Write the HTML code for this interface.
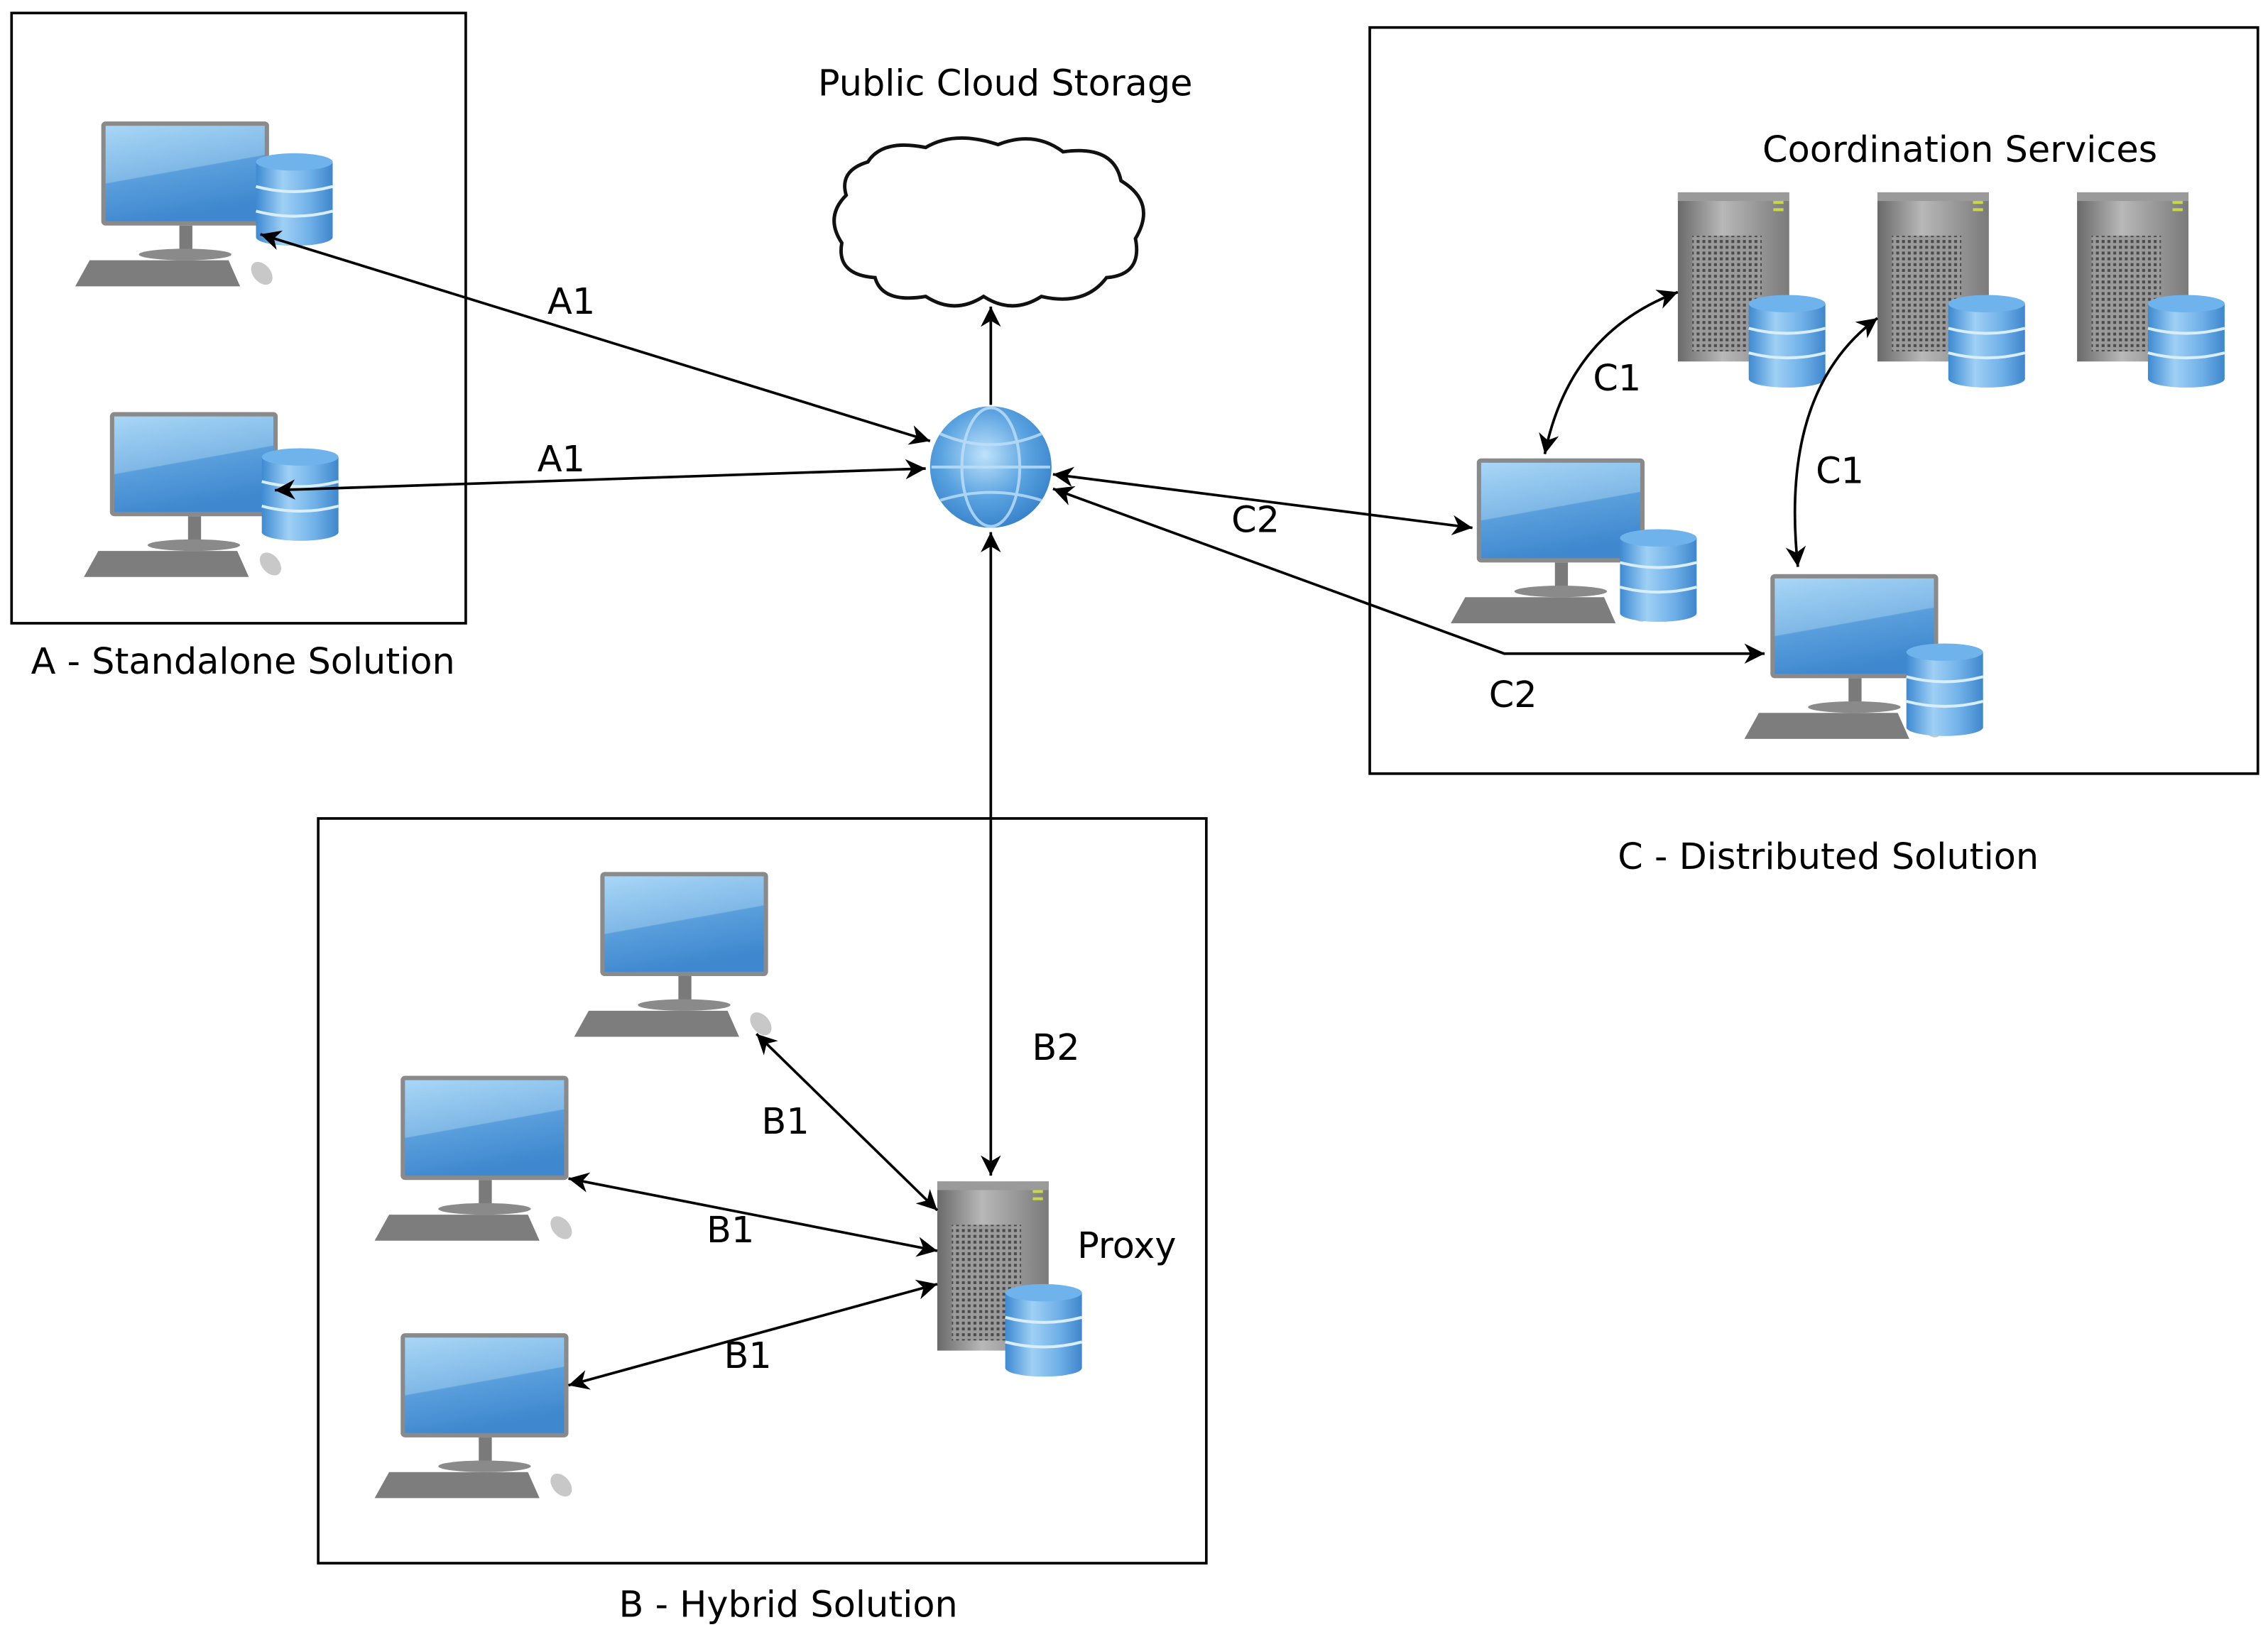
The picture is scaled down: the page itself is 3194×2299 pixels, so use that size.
<!DOCTYPE html>
<html><head><meta charset="utf-8"><style>html,body{margin:0;padding:0;background:#fff}svg{display:block}</style></head><body>
<svg width="3194" height="2299" viewBox="0 0 1568 1128.6" preserveAspectRatio="none" xmlns="http://www.w3.org/2000/svg" font-family="DejaVu Sans, Liberation Sans, sans-serif" font-size="25">
<defs>
<linearGradient id="scr" x1="0" y1="0" x2="0.3" y2="1"><stop offset="0" stop-color="#a8d6f7"/><stop offset="0.55" stop-color="#7fb8e6"/><stop offset="0.56" stop-color="#5a9fdc"/><stop offset="1" stop-color="#3f88cf"/></linearGradient>
<linearGradient id="cyl" x1="0" y1="0" x2="1" y2="0"><stop offset="0" stop-color="#3d8ad2"/><stop offset="0.35" stop-color="#9fd0f5"/><stop offset="0.7" stop-color="#6fb0e8"/><stop offset="1" stop-color="#3f86cc"/></linearGradient>
<linearGradient id="srv" x1="0" y1="0" x2="1" y2="0"><stop offset="0" stop-color="#6a6a6a"/><stop offset="0.4" stop-color="#b8b8b8"/><stop offset="1" stop-color="#7a7a7a"/></linearGradient>
<radialGradient id="glb" cx="0.45" cy="0.4" r="0.6"><stop offset="0" stop-color="#bfe2fb"/><stop offset="0.6" stop-color="#5aa3e0"/><stop offset="1" stop-color="#3a84cc"/></radialGradient>
<pattern id="grid" width="4" height="4" patternUnits="userSpaceOnUse"><rect width="4" height="4" fill="#9a9a9a"/><rect x="1" y="1" width="2" height="2" fill="#4a4a4a"/></pattern>
<symbol id="pc" overflow="visible">
<rect x="18" y="0" width="116" height="72" rx="3" fill="#8a8a8a"/>
<rect x="21" y="3" width="110" height="66" fill="url(#scr)"/>
<rect x="72" y="72" width="9" height="18" fill="#7a7a7a"/>
<ellipse cx="76" cy="92" rx="32" ry="4" fill="#8a8a8a"/>
<polygon points="10,96 106,96 114,114 0,114" fill="#7d7d7d"/>
<ellipse cx="129" cy="105" rx="6" ry="9" fill="#c8c8c8" transform="rotate(-40 129 105)"/>
</symbol>
<symbol id="db" overflow="visible">
<rect x="0" y="6" width="53" height="52" fill="url(#cyl)"/>
<ellipse cx="26.5" cy="58" rx="26.5" ry="6" fill="url(#cyl)"/>
<ellipse cx="26.5" cy="6" rx="26.5" ry="6" fill="#6fb3ec"/>
<path d="M0 23 Q26.5 30 53 23 M0 40 Q26.5 47 53 40" stroke="#d8eefc" stroke-width="2" fill="none"/>
</symbol>
<symbol id="srvr" overflow="visible">
<rect x="0" y="0" width="77" height="117" fill="url(#srv)"/>
<rect x="0" y="0" width="77" height="6" fill="#9a9a9a"/>
<rect x="10" y="30" width="48" height="80" fill="url(#grid)"/>
<rect x="66" y="6" width="7" height="2" fill="#c8d848"/><rect x="66" y="11" width="7" height="2" fill="#c8d848"/>
</symbol>
<marker id="ah" viewBox="0 0 10 10" refX="10" refY="5" markerWidth="18" markerHeight="14" markerUnits="userSpaceOnUse" orient="auto-start-reverse"><path d="M0 0 L10 5 L0 10 L3 5 Z" fill="#000"/></marker>
</defs>
<g fill="none" stroke="#000" stroke-width="1.8">
<rect x="8" y="9" width="314" height="422"/>
<rect x="947" y="19" width="614" height="516"/>
<rect x="220" y="566" width="614" height="515"/>
</g>
<path d="M600 112 Q610 96 640 102 Q660 90 690 100 Q715 90 735 105 Q770 100 775 125 Q800 140 785 165 Q790 190 765 192 Q750 212 720 205 Q700 218 680 205 Q660 218 640 205 Q610 210 605 192 Q578 190 582 168 Q570 150 585 135 Q580 118 600 112 Z" fill="#fff" stroke="#111" stroke-width="2.4"/>
<circle cx="685" cy="323" r="42" fill="url(#glb)"/>
<g stroke="#bfe0fa" stroke-width="2" fill="none" opacity="0.8"><ellipse cx="685" cy="323" rx="20" ry="41"/><line x1="644" y1="323" x2="726" y2="323"/><path d="M650 300 Q685 315 720 300 M650 346 Q685 335 720 346"/></g>
<use href="#pc" x="52" y="84"/><use href="#db" x="177" y="106"/>
<use href="#pc" x="58" y="285"/><use href="#db" x="181" y="310"/>
<use href="#pc" x="397" y="603"/>
<use href="#pc" x="259" y="744"/>
<use href="#pc" x="259" y="922"/>
<use href="#srvr" x="648" y="817"/><use href="#db" x="695" y="888"/>
<use href="#srvr" x="1160" y="133"/><use href="#db" x="1209" y="204"/>
<use href="#srvr" x="1298" y="133"/><use href="#db" x="1347" y="204"/>
<use href="#srvr" x="1436" y="133"/><use href="#db" x="1485" y="204"/>
<use href="#pc" x="1003" y="317"/><use href="#db" x="1120" y="366"/>
<use href="#pc" x="1206" y="397"/><use href="#db" x="1318" y="445"/>
<g stroke="#000" stroke-width="1.8" fill="none" marker-start="url(#ah)" marker-end="url(#ah)">
<line x1="180" y1="162" x2="643" y2="305"/>
<line x1="190" y1="339" x2="640" y2="324"/>
<line x1="685" y1="368" x2="685" y2="813"/>
<line x1="523" y1="715" x2="648" y2="837"/>
<line x1="393" y1="815" x2="648" y2="865"/>
<line x1="393" y1="958" x2="648" y2="888"/>
<line x1="728" y1="328" x2="1018" y2="365"/>
<polyline points="728,338 1040,452 1220,452"/>
<path d="M1160 202 Q1085 230 1068 314"/>
<path d="M1298 220 Q1230 270 1243 392"/>
</g>
<line x1="685" y1="280" x2="685" y2="212" stroke="#000" stroke-width="1.8" marker-end="url(#ah)"/>
<g fill="#000">
<text x="695" y="66" text-anchor="middle">Public Cloud Storage</text>
<text x="1355" y="112" text-anchor="middle">Coordination Services</text>
<text x="168" y="466" text-anchor="middle">A - Standalone Solution</text>
<text x="1264" y="601" text-anchor="middle">C - Distributed Solution</text>
<text x="545" y="1118" text-anchor="middle">B - Hybrid Solution</text>
<text x="395" y="217" text-anchor="middle">A1</text>
<text x="388" y="326" text-anchor="middle">A1</text>
<text x="1118" y="270" text-anchor="middle">C1</text>
<text x="1272" y="334" text-anchor="middle">C1</text>
<text x="868" y="368" text-anchor="middle">C2</text>
<text x="1046" y="489" text-anchor="middle">C2</text>
<text x="730" y="733" text-anchor="middle">B2</text>
<text x="543" y="784" text-anchor="middle">B1</text>
<text x="505" y="859" text-anchor="middle">B1</text>
<text x="517" y="946" text-anchor="middle">B1</text>
<text x="779" y="870" text-anchor="middle">Proxy</text>
</g>
</svg>
</body></html>
